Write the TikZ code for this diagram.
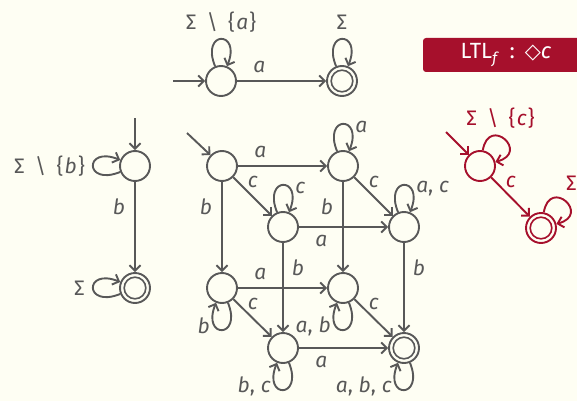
\documentclass[tikz,border=0pt]{standalone}
\usepackage{fontspec}
\setmainfont{Fira Sans}
\newfontfamily\symfont{DejaVu Sans}
\usetikzlibrary{arrows.meta}
\definecolor{bgc}{RGB}{254,254,243}
\definecolor{fg}{RGB}{88,88,88}
\definecolor{alrt}{RGB}{166,16,44}
\newcommand{\vi}[1]{\textit{#1}}
\newcommand{\smn}{\hspace{0.5em}\textbackslash\hspace{0.5em}}
\newcommand{\stb}[1]{\{\hspace{0.06em}#1\hspace{0.06em}\}}
\newcommand{\cma}{,\hspace{0.28em}}
\begin{document}
\begin{tikzpicture}[x=1pt,y=-1pt,
  every node/.style={text=fg, font=\fontsize{21}{23}\selectfont},
  st/.style={circle, draw=fg, line width=1.9pt, minimum size=30pt, inner sep=0pt},
  acc/.style={st, path picture={\draw[line width=1.6pt, draw=fg] (path picture bounding box.center) circle[radius=10.8pt];}},
  tr/.style={draw=fg, line width=1.9pt, -{Straight Barb[length=5.5pt,width=11pt]}},
  la/.style={pos=0.25, shift={(0,-14)}},
  lb/.style={pos=0.25, shift={(0,14)}},
  ll/.style={pos=0.28, shift={(-16,0)}},
  lr/.style={pos=0.28, shift={(15,0)}},
  ld/.style={pos=0.25, shift={(10,-5)}},
  lpu/.style={out=112, in=68, looseness=0, min distance=39pt},
  lpd/.style={out=-68, in=-112, looseness=0, min distance=39pt},
  lpl/.style={out=202, in=158, looseness=0, min distance=39pt},
  lpr/.style={out=80, in=15, looseness=0, min distance=36pt},
  lua/.style={pos=0.5, anchor=west, shift={(8,3)}},
  lda/.style={pos=0.5, anchor=east, shift={(-8,-4)}},
  lla/.style={pos=0.5, anchor=east, shift={(-4,0)}},
  lta/.style={pos=0.5, anchor=base, shift={(0,-9.5)}},
  rst/.style={st, draw=alrt},
  racc/.style={rst, path picture={\draw[line width=1.6pt, draw=alrt] (path picture bounding box.center) circle[radius=10.8pt];}},
  rtr/.style={tr, draw=alrt},
  rlab/.style={text=alrt}
]
\fill[bgc] (0,0) rectangle (577,401);
\useasboundingbox (0,0) rectangle (577,401);

% top automaton
\node[st] (t0) at (221,81) {};
\node[acc] (t1) at (342,81) {};
\coordinate (ti) at (173,81);
\draw[tr] (ti) -- (t0);
\draw[tr] (t0) -- node[la]{\vi{a}} (t1);
\draw[tr] (t0) to[lpu] node[lta]{Σ\smn\stb{\vi{a}}} (t0);
\draw[tr] (t1) to[lpu] node[lta]{Σ} (t1);

% left automaton
\node[st] (l0) at (135,166) {};
\node[acc] (l1) at (135,288) {};
\coordinate (li) at (135,118);
\draw[tr] (li) -- (l0);
\draw[tr] (l0) -- node[ll]{\vi{b}} (l1);
\draw[tr] (l0) to[lpl] node[lla]{Σ\smn\stb{\vi{b}}} (l0);
\draw[tr] (l1) to[lpl] node[lla]{Σ} (l1);

% cube
\node[st] (c0) at (222,166) {};
\node[st] (ca) at (343,166) {};
\node[st] (cc) at (283,227) {};
\node[st] (cac) at (404,227) {};
\node[st] (cb) at (222,288) {};
\node[st] (cab) at (343,288) {};
\node[st] (cbc) at (283,348) {};
\node[acc] (cabc) at (404,348) {};
\coordinate (ci) at (187,133);
\draw[tr] (ci) -- (c0);
\draw[tr] (c0) -- node[la]{\vi{a}} (ca);
\draw[tr] (c0) -- node[ld]{\vi{c}} (cc);
\draw[tr] (c0) -- node[ll]{\vi{b}} (cb);
\draw[tr] (ca) -- node[ld]{\vi{c}} (cac);
\draw[tr] (ca) -- node[ll]{\vi{b}} (cab);
\draw[tr] (cc) -- node[lb]{\vi{a}} (cac);
\draw[tr] (cc) -- node[lr]{\vi{b}} (cbc);
\draw[tr] (cac) -- node[lr]{\vi{b}} (cabc);
\draw[tr] (cb) -- node[la]{\vi{a}} (cab);
\draw[tr] (cb) -- node[ld]{\vi{c}} (cbc);
\draw[tr] (cab) -- node[ld]{\vi{c}} (cabc);
\draw[tr] (cbc) -- node[lb]{\vi{a}} (cabc);
\draw[tr] (ca) to[lpu] node[lua]{\vi{a}} (ca);
\draw[tr] (cc) to[lpu] node[lua]{\vi{c}} (cc);
\draw[tr] (cac) to[lpu] node[lua]{\vi{a}\cma\vi{c}} (cac);
\draw[tr] (cb) to[lpd] node[lda]{\vi{b}} (cb);
\draw[tr] (cab) to[lpd] node[lda]{\vi{a}\cma\vi{b}} (cab);
\draw[tr] (cbc) to[lpd] node[lda]{\vi{b}\cma\vi{c}} (cbc);
\draw[tr] (cabc) to[lpd] node[lda]{\vi{a}\cma\vi{b}\cma\vi{c}} (cabc);

% title box
\node[fill=alrt, rounded corners=3pt, text=white, minimum width=166pt, minimum height=34pt, inner sep=0pt, font=\fontsize{22}{24}\selectfont] (ttl) at (506,55) {LTL\textsubscript{\vi{f}}\hspace{0.45em}:\hspace{0.45em}{\symfont\fontsize{21}{22}\selectfont ◇}\vi{c}};

% red automaton
\node[rst] (r0) at (480,166) {};
\node[racc] (r1) at (541,228) {};
\coordinate (ri) at (446,132);
\draw[rtr] (ri) -- (r0);
\draw[rtr] (r0) -- node[ld, rlab]{\vi{c}} (r1);
\draw[rtr] (r0) to[lpr] node[pos=0.5, anchor=base, shift={(-4,-14)}, rlab]{Σ\smn\stb{\vi{c}}} (r0);
\draw[rtr] (r1) to[lpr] node[pos=0.5, anchor=base, shift={(6,-11)}, rlab]{Σ} (r1);
\end{tikzpicture}
\end{document}
